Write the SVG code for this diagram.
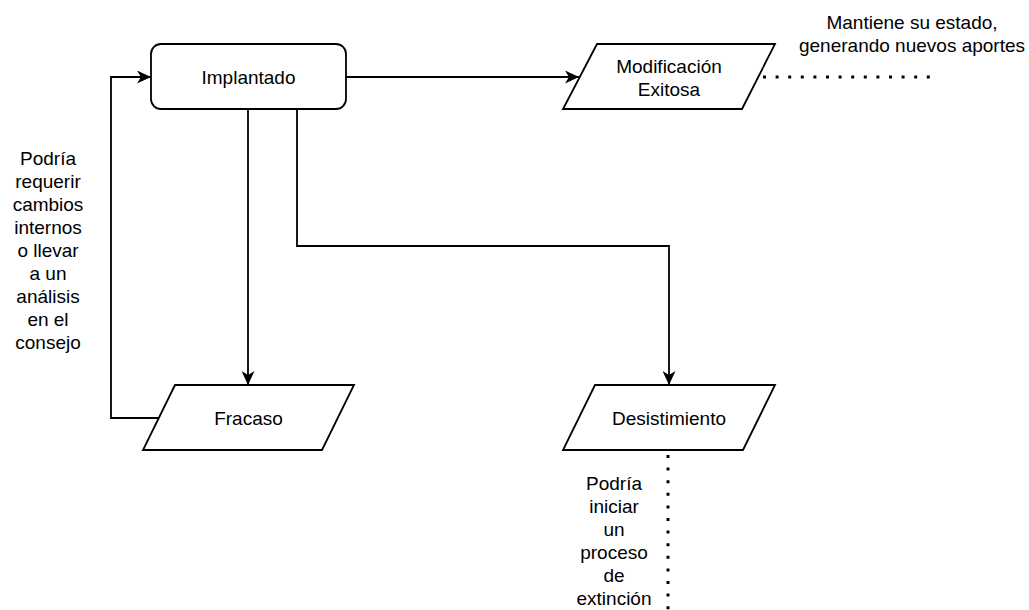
<svg xmlns="http://www.w3.org/2000/svg" width="1029" height="610" viewBox="0 0 1029 610">
  <defs>
    <marker id="arrow" viewBox="0 0 14 13" refX="14" refY="6.5" markerWidth="14" markerHeight="13" markerUnits="userSpaceOnUse" orient="auto">
      <path d="M0,0 L14,6.5 L0,13 L4,6.5 Z" fill="#000"/>
    </marker>
  </defs>
  <style>
    .shape { fill: #fff; stroke: #000; stroke-width: 1.8; }
    .edge { fill: none; stroke: #000; stroke-width: 1.8; }
    .dots { fill: none; stroke: #000; stroke-width: 3; stroke-dasharray: 3 9.6; }
    text { font-family: "Liberation Sans", Arial, sans-serif; font-size: 19px; fill: #000; text-anchor: middle; }
  </style>
  <rect width="1029" height="610" fill="#fff"/>

  <g id="connectors">
    <path class="edge" d="M346,77 L579,77" marker-end="url(#arrow)"/>
    <path class="edge" d="M248,109 L248,385" marker-end="url(#arrow)"/>
    <path class="edge" d="M297,109 L297,246 L669,246 L669,385" marker-end="url(#arrow)"/>
    <path class="edge" d="M159,418 L111,418 L111,77 L151,77" marker-end="url(#arrow)"/>
    <path class="dots" d="M763,77 L930,77"/>
    <path class="dots" d="M668,455 L668,610"/>
  </g>

  <g id="implantado">
    <rect class="shape" x="151" y="44" width="195" height="65" rx="10" ry="10"/>
    <text x="248.5" y="84">Implantado</text>
  </g>

  <g id="modificacion">
    <polygon class="shape" points="597,44 775,44 742,109 563,109"/>
    <text x="669" y="73">Modificación</text>
    <text x="669" y="96">Exitosa</text>
  </g>

  <g id="fracaso">
    <polygon class="shape" points="175,385 354,385 322,450 143,450"/>
    <text x="248.5" y="425">Fracaso</text>
  </g>

  <g id="desistimiento">
    <polygon class="shape" points="595,385 775,385 743,450 563,450"/>
    <text x="669" y="425">Desistimiento</text>
  </g>

  <g id="label-mantiene">
    <text x="912" y="29">Mantiene su estado,</text>
    <text x="912" y="52">generando nuevos aportes</text>
  </g>

  <g id="label-podria-requerir">
    <text x="48" y="165">Podría</text>
    <text x="48" y="188">requerir</text>
    <text x="48" y="211">cambios</text>
    <text x="48" y="234">internos</text>
    <text x="48" y="257">o llevar</text>
    <text x="48" y="280">a un</text>
    <text x="48" y="303">análisis</text>
    <text x="48" y="326">en el</text>
    <text x="48" y="349">consejo</text>
  </g>

  <g id="label-podria-iniciar">
    <text x="614" y="490">Podría</text>
    <text x="614" y="513">iniciar</text>
    <text x="614" y="536">un</text>
    <text x="614" y="559">proceso</text>
    <text x="614" y="582">de</text>
    <text x="614" y="605">extinción</text>
  </g>
</svg>
